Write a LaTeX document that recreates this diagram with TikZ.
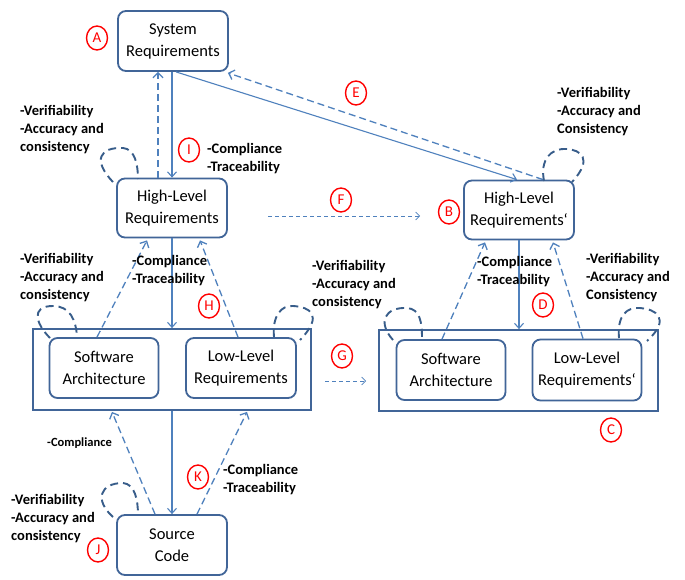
\documentclass[tikz,border=0pt]{standalone}
\usepackage{fontspec}
\setmainfont{Carlito}
\usetikzlibrary{arrows.meta}
\definecolor{boxblue}{RGB}{65,101,152}
\definecolor{arrblue}{RGB}{79,129,189}
\definecolor{loopblue}{RGB}{56,93,138}
\tikzset{
  box/.style={draw=boxblue, line width=1.8pt, rounded corners=8pt, fill=white,
    minimum width=110pt, minimum height=60pt, align=center, inner sep=0pt,
    font=\fontsize{16.5}{22}\selectfont},
  frame/.style={draw=boxblue, line width=1.8pt},
  solidarr/.style={draw=arrblue, line width=1.1pt, -{Straight Barb[length=5pt,width=9pt]}},
  dasharr/.style={draw=arrblue, line width=1.3pt, dash pattern=on 7pt off 4pt, -{Straight Barb[length=5pt,width=10pt]}},
  thinarr/.style={draw=arrblue, line width=0.7pt, dash pattern=on 4pt off 3pt, -{Straight Barb[length=4pt,width=8pt]}},
  selfloop/.style={draw=loopblue, line width=1.9pt, dash pattern=on 8pt off 5pt},
  tag/.style={draw=red, text=red, ellipse, line width=1.4pt, minimum width=21pt, minimum height=24pt,
    inner sep=0pt, font=\fontsize{15}{15}\selectfont},
  lbl/.style={align=left, anchor=west, inner sep=0pt, font=\fontsize{14.5}{18}\selectfont\bfseries},
}
\usetikzlibrary{shapes.geometric}
\begin{document}
\begin{tikzpicture}[x=1pt,y=-1pt]
\useasboundingbox[fill=white] (0,0) rectangle (685,580);

% frames
\node[frame, minimum width=278pt, minimum height=81pt, inner sep=0pt] (rectL) at (172,369.5) {};
\node[frame, minimum width=279pt, minimum height=81pt, inner sep=0pt] (rectR) at (518.5,370.5) {};

% boxes
\node[box] (sys) at (173,41) {System\\Requirements};
\node[box, minimum height=59pt] (hlr) at (172,208) {High-Level\\Requirements};
\node[box, minimum height=59pt] (hlrp) at (519,210) {High-Level\\Requirements‘};
\node[box, minimum width=109pt] (swa) at (104,368) {Software\\Architecture};
\node[box] (llr) at (241,368) {Low-Level\\Requirements};
\node[box, minimum width=109pt] (swap) at (451,370) {Software\\Architecture};
\node[box, minimum width=109pt, minimum height=61pt] (llrp) at (587,370) {Low-Level\\Requirements‘};
\node[box] (sc) at (172,545) {Source\\Code};

% connectors top
\draw[solidarr] (hlr.north |- sys.south) -- (hlr.north);
\draw[dasharr] ([xshift=-14pt]hlr.north) -- ([xshift=-14pt]hlr.north |- sys.south);
\draw[solidarr] ([xshift=3pt]sys.south) -- ([xshift=-2pt]hlrp.north);
\draw[dasharr] ([xshift=24pt]hlrp.north) -- ([xshift=-1pt,yshift=-1pt]sys.south east);

% F arrow
\coordinate (f1) at (268,216);
\coordinate (f2) at (420,216);
\draw[thinarr] (f1) -- (f2);

% left middle
\draw[dasharr] ([xshift=-7pt]swa.north) -- ([xshift=-25pt,yshift=-2pt]hlr.south);
\draw[dasharr] ([xshift=-3pt]llr.north) -- ([xshift=28pt,yshift=-2pt]hlr.south);
\draw[solidarr] (hlr.south) -- (hlr.south |- rectL.north);

% right middle
\draw[dasharr] ([xshift=-9pt]swap.north) -- ([xshift=-34pt,yshift=-2pt]hlrp.south);
\draw[dasharr] ([xshift=-4pt]llrp.north) -- ([xshift=34pt,yshift=-2pt]hlrp.south);
\draw[solidarr] (hlrp.south) -- (hlrp.south |- rectR.north);

% G arrow
\coordinate (g1) at (325,381);
\coordinate (g2) at (366,381);
\draw[thinarr] (g1) -- (g2);

% bottom
\draw[solidarr] (sc.north |- rectL.south) -- (sc.north);
\draw[dasharr] ([xshift=-17pt]sc.north) -- ([xshift=-60pt,yshift=-1pt]rectL.south);
\draw[dasharr] ([xshift=25pt]sc.north) -- ([xshift=75pt,yshift=-1pt]rectL.south);

% self loops
\draw[selfloop] (113,182) .. controls (92,160) and (100,147) .. (123,148) .. controls (135,149) and (138,165) .. (138,179);
\draw[selfloop] (544,181) .. controls (540,160) and (550,148) .. (567,149) .. controls (580,150) and (594,158) .. (572,182);
\draw[selfloop] (50,338) .. controls (36,324) and (30,306) .. (53,306) .. controls (70,306) and (76,320) .. (77,337);
\draw[selfloop] (274,337) .. controls (272,315) and (282,305) .. (293,306) .. controls (310,307) and (324,315) .. (300,340);
\draw[selfloop] (393,340) .. controls (377,322) and (385,307) .. (407,308) .. controls (420,309) and (422,322) .. (422,338);
\draw[selfloop] (619,338) .. controls (617,315) and (627,307) .. (640,308) .. controls (655,309) and (672,318) .. (647,341);
\draw[selfloop] (113,517) .. controls (94,500) and (100,483) .. (123,483) .. controls (135,484) and (138,500) .. (138,515);

% tags
\node[tag] (tA) at (97,38) {A};
\node[tag] (tE) at (356,93) {E};
\node[tag] (tI) at (189,150) {I};
\node[tag] (tF) at (341,200) {F};
\node[tag] (tB) at (449,212) {B};
\node[tag] (tH) at (209,306) {H};
\node[tag] (tD) at (543,305) {D};
\node[tag] (tG) at (342,356) {G};
\node[tag] (tC) at (611,430) {C};
\node[tag] (tK) at (198,477) {K};
\node[tag] (tJ) at (98,550) {J};

% labels
\node[lbl] (l1) at (20,130) {-Verifiability\\-Accuracy and\\consistency};
\node[lbl] (l2) at (207,159) {-Compliance\\-Traceability};
\node[lbl] (l3) at (557,112) {-Verifiability\\-Accuracy and\\Consistency};
\node[lbl] (l4) at (20,278) {-Verifiability\\-Accuracy and\\consistency};
\node[lbl] (l5) at (132,271) {-Compliance\\-Traceability};
\node[lbl] (l6) at (312,285) {-Verifiability\\-Accuracy and\\consistency};
\node[lbl] (l7) at (477,272) {-Compliance\\-Traceability};
\node[lbl] (l8) at (586,278) {-Verifiability\\-Accuracy and\\Consistency};
\node[lbl, font=\fontsize{12.5}{15}\selectfont\bfseries] (l9) at (47,443) {-Compliance};
\node[lbl] (l10) at (223,480) {-Compliance\\-Traceability};
\node[lbl] (l11) at (11,519) {-Verifiability\\-Accuracy and\\consistency};
\end{tikzpicture}
\end{document}
